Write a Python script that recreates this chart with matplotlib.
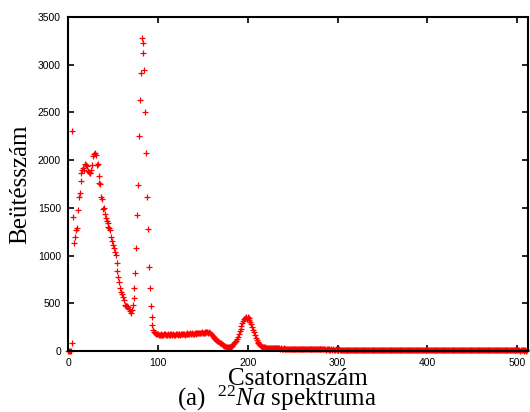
import numpy as np
import matplotlib
matplotlib.use("Agg")
import matplotlib.pyplot as plt

plt.rcParams["mathtext.fontset"] = "custom"
plt.rcParams["mathtext.rm"] = "Liberation Serif"
plt.rcParams["mathtext.it"] = "Liberation Serif:italic"

# counts per channel (channels 0..511)
counts_0_99 = [
    0, 0, 0, 0, 80, 2305, 1401, 1128, 1191, 1268, 1285, 1477, 1617, 1652, 1780, 1868, 1897, 1914, 1900, 1960,
    1945, 1942, 1889, 1880, 1868, 1862, 1900, 1949, 2040, 2064, 2072, 2054, 1949, 1956, 1834, 1757, 1750, 1617, 1590, 1485,
    1495, 1440, 1390, 1360, 1338, 1300, 1286, 1268, 1191, 1150, 1111, 1076, 1040, 1006, 919, 841, 779, 726, 657, 620,
    597, 569, 530, 482, 475, 472, 468, 465, 440, 422, 401, 430, 482, 552, 657, 814, 1076, 1425, 1740, 2256,
    2630, 2910, 3277, 3224, 3120, 2945, 2508, 2072, 1617, 1275, 883, 657, 472, 360, 272, 220, 200, 190, 180, 175,
]
counts_100_219 = [
    175, 168, 172, 165, 178, 170, 163, 175, 180, 168, 172, 177, 166, 174, 170, 181, 169, 176, 172, 165,
    178, 174, 170, 182, 176, 171, 179, 174, 183, 177, 172, 180, 186, 175, 181, 178, 185, 179, 188, 182,
    177, 186, 190, 183, 188, 193, 185, 191, 187, 195, 189, 192, 198, 190, 194, 200, 192, 196, 188, 180,
    170, 160, 148, 135, 125, 118, 108, 100, 92, 85, 80, 72, 66, 60, 55, 50, 47, 44, 42, 40,
    43, 47, 52, 60, 70, 82, 95, 110, 128, 150, 175, 205, 235, 265, 295, 318, 335, 345, 352, 340,
    355, 348, 330, 305, 280, 250, 222, 195, 168, 140, 118, 98, 82, 70, 60, 52, 46, 42, 40, 38,
]
counts_220_511 = [
    36, 35, 33, 34, 32, 33, 31, 30, 32, 29, 30, 28, 29, 27, 28, 29, 26, 27, 25, 26,
    27, 25, 24, 26, 24, 23, 25, 23, 22, 24, 23, 22, 21, 23, 22, 21, 22, 20, 21, 22,
    20, 21, 19, 20, 21, 19, 20, 18, 19, 20, 18, 19, 18, 17, 19, 18, 17, 18, 16, 17,
    18, 17, 16, 17, 16, 18, 16, 15, 17, 16, 15, 16, 15, 17, 15, 16, 14, 15, 16, 14,
    15, 14, 16, 15, 14, 15, 13, 14, 15, 14, 13, 15, 14, 13, 14, 13, 14, 12, 13, 14,
    13, 12, 14, 13, 12, 13, 12, 14, 12, 13, 12, 11, 13, 12, 12, 11, 13, 12, 11, 12,
    12, 11, 12, 13, 11, 12, 11, 10, 12, 11, 12, 11, 10, 11, 12, 11, 10, 11, 11, 10,
    11, 10, 12, 11, 10, 11, 10, 11, 9, 10, 11, 10, 10, 11, 9, 10, 11, 10, 9, 10,
    10, 9, 11, 10, 9, 10, 10, 9, 10, 11, 9, 10, 9, 10, 9, 8, 10, 9, 10, 9,
    9, 10, 8, 9, 10, 9, 9, 8, 10, 9, 8, 9, 9, 10, 8, 9, 8, 9, 9, 8,
    9, 8, 9, 10, 8, 9, 8, 9, 8, 8, 9, 8, 9, 7, 8, 9, 8, 8, 9, 7,
    8, 9, 8, 7, 8, 8, 9, 7, 8, 8, 7, 8, 9, 7, 8, 7, 8, 8, 7, 8,
    7, 8, 7, 8, 7, 7, 8, 7, 8, 6, 7, 8, 7, 7, 6, 8, 7, 7, 6, 7,
    7, 6, 7, 7, 6, 7, 6, 8, 6, 7, 6, 7, 6, 6, 7, 6, 7, 6, 6, 7,
    6, 6, 7, 5, 6, 6, 7, 5, 6, 6, 5, 6,
]
counts = np.array(counts_0_99 + counts_100_219 + counts_220_511)
channels = np.arange(len(counts))

x_ticks = [0, 100, 200, 300, 400, 500]
y_ticks = [0, 500, 1000, 1500, 2000, 2500, 3000, 3500]

fig = plt.figure(figsize=(5.30, 4.12), dpi=100)
ax = fig.add_axes([68 / 530, 1 - 351 / 412, 460 / 530, 334 / 412])

ax.plot(channels, counts, linestyle="none", marker="+", color="red",
        markersize=4.5, markeredgewidth=0.9, clip_on=False)

ax.set_xlim(0, 512)
ax.set_ylim(0, 3500)
ax.set_xticks(x_ticks)
ax.set_yticks(y_ticks)
ax.tick_params(direction="in", length=4, width=1.2, top=True, right=True,
               labelsize=7.5, pad=5)
for lab in ax.get_xticklabels() + ax.get_yticklabels():
    lab.set_family("Liberation Sans")
for sp in ax.spines.values():
    sp.set_linewidth(1.5)

ax.set_xlabel("Csatornaszám", family="Liberation Serif", fontsize=18, labelpad=0)
ax.set_ylabel("Beütésszám", family="Liberation Serif", fontsize=18, labelpad=5)

fig.text(277 / 530, 1 - 406 / 412, r"(a)  $^{22}Na$ spektruma",
         family="Liberation Serif", fontsize=18, ha="center", va="baseline")

fig.savefig("out.png", dpi=100)
